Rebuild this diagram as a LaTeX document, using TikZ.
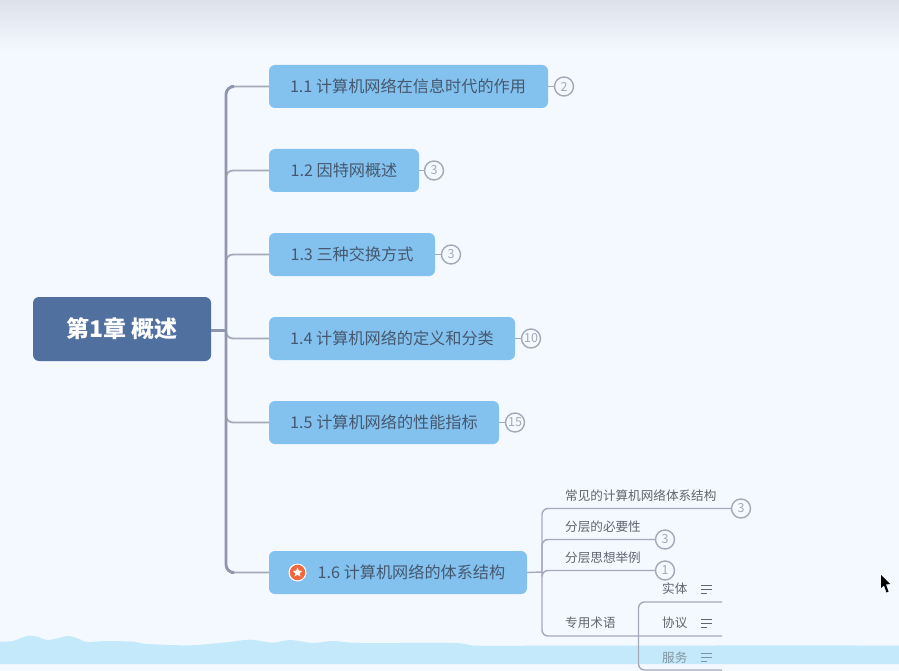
\documentclass[tikz,border=0pt]{standalone}
\usepackage{fontspec}
\setmainfont{Noto Sans CJK SC}
\usetikzlibrary{shapes.geometric,calc}
\definecolor{bgc}{HTML}{F4F8FF}
\definecolor{topc}{HTML}{DDE1EA}
\definecolor{boxc}{HTML}{83C1EE}
\definecolor{rootc}{HTML}{5070A0}
\definecolor{txtc}{HTML}{46586F}
\definecolor{subc}{HTML}{5F6670}
\definecolor{linec}{HTML}{A3AABB}
\definecolor{trunkc}{HTML}{8E97AB}
\definecolor{waterc}{HTML}{C3E9FB}
\definecolor{numc}{HTML}{A3A9B9}
\definecolor{icoc}{HTML}{F2683C}
\tikzset{
  topicbox/.style={fill=boxc,rounded corners=6pt,minimum height=43pt,inner sep=0pt,text=txtc,font=\fontsize{16.15}{16}\selectfont},
  rootbox/.style={fill=rootc,rounded corners=6pt,minimum width=178pt,minimum height=64pt,inner sep=0pt,text=white,font=\fontsize{23}{23}\selectfont\bfseries},
  badge/.style={circle,draw=numc,line width=1.4pt,fill=bgc,minimum size=19pt,inner sep=0pt,text=numc,font=\fontsize{12.5}{13}\selectfont},
  sublabel/.style={anchor=west,inner sep=0pt,text=subc,font=\fontsize{12.6}{13}\selectfont},
  thinline/.style={draw=linec,line width=1.4pt,rounded corners=6pt},
  branchline/.style={draw=linec,line width=1.8pt,rounded corners=7pt},
  trunkline/.style={draw=trunkc,line width=2.8pt,rounded corners=8pt},
  notemark/.style={line width=1pt}
}
\begin{document}
\begin{tikzpicture}[x=1pt,y=-1pt]
\useasboundingbox (0,0) rectangle (899,671);
\clip (0,0) rectangle (899,671);
\fill[bgc] (0,0) rectangle (899,671);
\shade[top color=topc,bottom color=bgc] (0,0) rectangle (899,52);
% water
\fill[waterc] plot[smooth,tension=0.5] coordinates {(0,641.7) (13,641) (27,636) (37,636.7) (47,640) (57,638.5) (68,636) (78,638.5) (87,642) (107,641) (133,641.7) (147,644) (190,645.3) (227,642.3) (250,639.7) (273,642.7) (290,640) (313,643) (333,641) (360,643) (453,643) (477,645.7) (540,645.7) (700,645.5) (899,645.5)}
  -- (899,664) -- (0,664) -- cycle;
% hubs
\coordinate (trunk) at (226,330);
\coordinate (hub) at (542,572);
\coordinate (hubb) at (638.5,636);
\coordinate (endt) at (722,636);
\coordinate (enda) at (722,602);
\coordinate (endb) at (722,670);
% topics
\node[rootbox] (root) at (122,329) {第1章 概述};
\node[topicbox,minimum width=279pt] (b1) at (408.5,86.5) {\hspace*{-1pt}1.1 计算机网络在信息时代的作用};
\node[topicbox,minimum width=150pt] (b2) at (344,170.5) {1.2 因特网概述};
\node[topicbox,minimum width=166pt] (b3) at (352,254.5) {1.3 三种交换方式};
\node[topicbox,minimum width=246pt] (b4) at (392,338.5) {1.4 计算机网络的定义和分类};
\node[topicbox,minimum width=230pt] (b5) at (384,422.5) {1.5 计算机网络的性能指标};
\node[topicbox,minimum width=258pt] (b6) at (398,572.5) {\hspace*{27pt}1.6 计算机网络的体系结构};
% badges
\node[badge] (c1) at (564,86.5) {2};
\node[badge] (c2) at (434,170.5) {3};
\node[badge] (c3) at (451,254.5) {3};
\node[badge] (c4) at (531,338.5) {10};
\node[badge] (c5) at (515,422.5) {15};
\node[badge] (c6) at (741,508.5) {3};
\node[badge] (c7) at (665,539.5) {3};
\node[badge] (c8) at (665,570.5) {1};
% connectors
\draw[branchline] (b2.west) -| (trunk);
\draw[branchline] (b3.west) -| (trunk);
\draw[branchline] (b4.west) -| (trunk);
\draw[branchline] (b5.west) -| (trunk);
\draw[branchline] (b1.west) -| (trunk);
\draw[branchline] (b6.west) -| (trunk);
\draw[trunkline] ($(b1.west)+(-38,0)$) -| (trunk) |- ($(b6.west)+(-38,0)$);
\draw[trunkc,line width=3pt] (root.east |- trunk) -- (trunk);
\draw[linec,line width=1.4pt] (b1.east) -- (c1.west);
\draw[linec,line width=1.4pt] (b2.east) -- (c2.west);
\draw[linec,line width=1.4pt] (b3.east) -- (c3.west);
\draw[linec,line width=1.4pt] (b4.east) -- (c4.west);
\draw[linec,line width=1.4pt] (b5.east) -- (c5.west);
\draw[linec,line width=1.4pt] (b6.east) -- (hub);
\draw[thinline] (c6.west) -| (hub);
\draw[thinline] (c7.west) -| (hub);
\draw[thinline] (c8.west) -| (hub);
\draw[thinline] (endt) -| (hub);
\draw[thinline] (enda) -| (hubb);
\draw[thinline] (endb) -| (hubb);
% star icon
\node[circle,fill=white,minimum size=18pt,inner sep=0pt] (ico) at (297.5,572.5) {};
\node[circle,fill=icoc,minimum size=15.5pt,inner sep=0pt] (icoin) at (297.5,572.5) {};
\node[star,star points=5,star point ratio=2.2,fill=white,minimum size=10pt,inner sep=0pt] (icostar) at (297.5,572.5) {};
% labels
\node[sublabel] (t1) at (565,495.5) {常见的计算机网络体系结构};
\node[sublabel] (t2) at (565,527) {分层的必要性};
\node[sublabel] (t3) at (565,557.5) {分层思想举例};
\node[sublabel] (t4) at (565,623) {专用术语};
\node[sublabel] (u1) at (662,589) {实体};
\node[sublabel] (u2) at (662,623) {协议};
\node[sublabel,text=subc!65!waterc] (u3) at (662,658) {服务};
\foreach \yy/\cc in {589/subc,623/subc,657/subc!65!waterc}{
  \draw[notemark,draw=\cc] (700.5,\yy-4) -- (712,\yy-4);
  \draw[notemark,draw=\cc] (700.5,\yy) -- (712,\yy);
  \draw[notemark,draw=\cc] (700.5,\yy+4) -- (707,\yy+4);
}
% cursor
\fill[black] (881,575) -- (881,588) -- (884,585.5) -- (886.5,592.5) -- (888.5,591.5) -- (886,584.5) -- (890,584) -- cycle;
\end{tikzpicture}
\end{document}
